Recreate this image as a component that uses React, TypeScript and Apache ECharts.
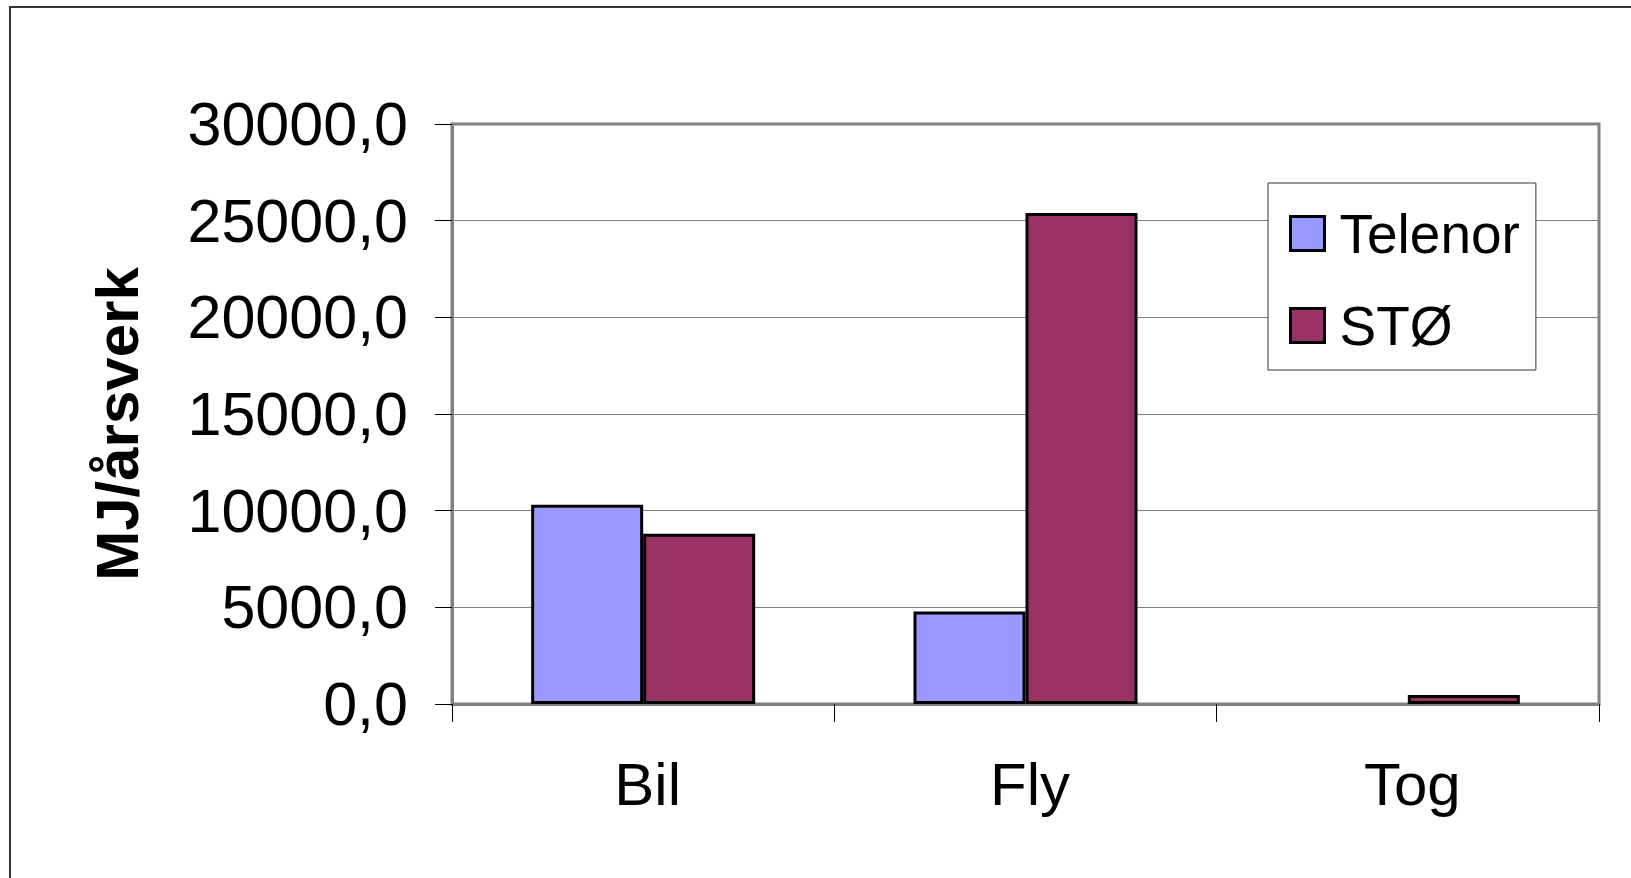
import React, { useEffect, useRef } from "react";
import * as echarts from "echarts";

const categories = ["Bil", "Fly", "Tog"];
const telenor: (number | null)[] = [10300, 4780, null];
const sto = [8800, 25400, 470];
const seriesNames = ["Telenor", "STØ"];
const yTicks = { min: 0, max: 30000, interval: 5000 };
const yTitle = "MJ/årsverk";

const FONT = "'Liberation Sans', Arial, sans-serif";

export default function App() {
  const ref = useRef<HTMLDivElement>(null);
  useEffect(() => {
    if (!ref.current) return;
    const chart = echarts.init(ref.current, null, { renderer: "svg" });
    chart.setOption({
      animation: false,
      backgroundColor: "#ffffff",
      textStyle: { fontFamily: FONT, color: "#000" },
      graphic: [
        {
          type: "rect",
          shape: { x: 10, y: 7, width: 1700, height: 950 },
          style: { fill: "none", stroke: "#333", lineWidth: 2 },
          silent: true,
          z: -1,
        },
      ],
      grid: {
        left: 452,
        top: 124,
        right: 32,
        bottom: 174,
        show: true,
        borderColor: "#808080",
        borderWidth: 3,
        backgroundColor: "transparent",
      },
      legend: {
        left: 1268,
        top: 183,
        orient: "vertical",
        padding: [23, 16, 17, 21],
        itemGap: 37,
        itemWidth: 34,
        itemHeight: 34,
        borderColor: "#333",
        borderWidth: 1,
        backgroundColor: "#fff",
        icon: "rect",
        textStyle: { fontSize: 55, fontFamily: FONT, color: "#000", padding: [0, 0, 10, 10] },
        itemStyle: { borderColor: "#000", borderWidth: 3 },
        data: seriesNames,
      },
      xAxis: {
        type: "category",
        data: categories,
        axisLine: { show: true, lineStyle: { color: "#808080", width: 3 } },
        axisTick: { show: true, length: 18, lineStyle: { color: "#000", width: 1 } },
        axisLabel: {
          fontSize: 60,
          fontFamily: FONT,
          color: "#000",
          margin: 50,
          padding: [0, 0, 0, 9],
        },
      },
      yAxis: {
        type: "value",
        min: yTicks.min,
        max: yTicks.max,
        interval: yTicks.interval,
        name: yTitle,
        nameLocation: "middle",
        nameGap: 305,
        nameTextStyle: {
          fontSize: 60,
          fontWeight: "bold",
          fontFamily: FONT,
          color: "#000",
          padding: [0, 20, 0, 0],
        },
        axisLine: { show: true, lineStyle: { color: "#808080", width: 3 } },
        axisTick: { show: true, length: 17, lineStyle: { color: "#000", width: 1 } },
        splitLine: { show: true, lineStyle: { color: "#808080", width: 1 } },
        axisLabel: {
          fontSize: 61,
          fontFamily: FONT,
          color: "#000",
          margin: 44,
          formatter: (v: number) => v.toFixed(1).replace(".", ","),
        },
      },
      series: [
        {
          name: seriesNames[0],
          type: "bar",
          data: telenor,
          barWidth: 112,
          barGap: "0%",
          itemStyle: { color: "#9999FF", borderColor: "#000", borderWidth: 3 },
        },
        {
          name: seriesNames[1],
          type: "bar",
          data: sto,
          barWidth: 112,
          barGap: "0%",
          itemStyle: { color: "#993366", borderColor: "#000", borderWidth: 3 },
        },
      ],
    });
    return () => chart.dispose();
  }, []);
  return (
    <div
      ref={ref}
      style={{ position: "fixed", left: 0, top: 0, width: 1631, height: 878 }}
    />
  );
}
